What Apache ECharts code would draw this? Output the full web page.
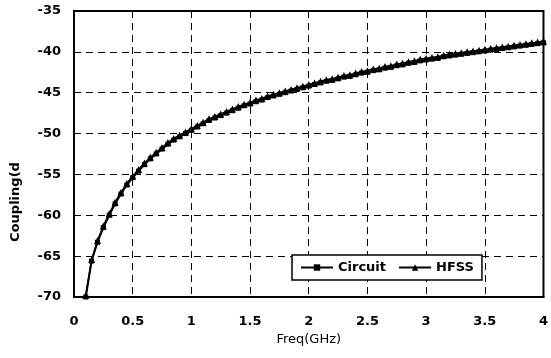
<!DOCTYPE html>
<html>
<head>
<meta charset="utf-8">
<script src="https://cdn.jsdelivr.net/npm/echarts@6/dist/echarts.min.js"></script>
<style>
  html, body { margin: 0; padding: 0; background: #fff; }
  #main { width: 551px; height: 358px; }
</style>
</head>
<body>
<div id="main"></div>
<script>
// frequency points (GHz)
var freq = [0.1, 0.15, 0.2, 0.25, 0.3, 0.35, 0.4, 0.45, 0.5, 0.55, 0.6, 0.65, 0.7, 0.75, 0.8, 0.85, 0.9, 0.95, 1.0,
            1.05, 1.1, 1.15, 1.2, 1.25, 1.3, 1.35, 1.4, 1.45, 1.5, 1.55, 1.6, 1.65, 1.7, 1.75, 1.8, 1.85, 1.9, 1.95, 2.0,
            2.05, 2.1, 2.15, 2.2, 2.25, 2.3, 2.35, 2.4, 2.45, 2.5, 2.55, 2.6, 2.65, 2.7, 2.75, 2.8, 2.85, 2.9, 2.95, 3.0,
            3.05, 3.1, 3.15, 3.2, 3.25, 3.3, 3.35, 3.4, 3.45, 3.5, 3.55, 3.6, 3.65, 3.7, 3.75, 3.8, 3.85, 3.9, 3.95, 4.0];
// coupling (dB)
var circuitVals = [-70.0, -65.6, -63.3, -61.5, -60.0, -58.6, -57.4, -56.3, -55.4, -54.6, -53.8, -53.1, -52.5, -51.9, -51.3, -50.8, -50.4, -50.0, -49.6,
                   -49.2, -48.8, -48.4, -48.1, -47.8, -47.5, -47.2, -46.9, -46.6, -46.4, -46.1, -45.9, -45.6, -45.4, -45.2, -45.0, -44.8, -44.6, -44.4, -44.2,
                   -44.0, -43.8, -43.6, -43.5, -43.3, -43.1, -43.0, -42.8, -42.6, -42.5, -42.3, -42.2, -42.0, -41.9, -41.7, -41.6, -41.4, -41.3, -41.1, -41.0,
                   -40.9, -40.8, -40.6, -40.5, -40.4, -40.3, -40.2, -40.1, -40.0, -39.9, -39.8, -39.7, -39.6, -39.5, -39.4, -39.3, -39.2, -39.1, -39.0, -38.9];
var hfssVals = [-69.8, -65.4, -63.1, -61.3, -59.8, -58.4, -57.2, -56.1, -55.2, -54.4, -53.6, -52.9, -52.3, -51.7, -51.1, -50.6, -50.2, -49.8, -49.4,
                -49.0, -48.6, -48.2, -47.9, -47.6, -47.3, -47.0, -46.7, -46.4, -46.2, -45.9, -45.7, -45.4, -45.2, -45.0, -44.8, -44.6, -44.4, -44.2, -44.0,
                -43.8, -43.6, -43.4, -43.3, -43.1, -42.9, -42.8, -42.6, -42.4, -42.3, -42.1, -42.0, -41.8, -41.7, -41.5, -41.4, -41.2, -41.1, -40.9, -40.8,
                -40.7, -40.6, -40.4, -40.3, -40.2, -40.1, -40.0, -39.9, -39.8, -39.7, -39.6, -39.5, -39.4, -39.3, -39.2, -39.1, -39.0, -38.9, -38.8, -38.7];
var seriesNames = ['Circuit', 'HFSS'];

function pairs(xs, ys) {
  var out = [];
  for (var i = 0; i < xs.length; i++) out.push([xs[i], ys[i]]);
  return out;
}

var font = 'DejaVu Sans, sans-serif';
var myChart = echarts.init(document.getElementById('main'));
var option = {
  animation: false,
  backgroundColor: '#fff',
  grid: { left: 74, right: 3, top: 11, bottom: 61, show: true, borderColor: '#000', borderWidth: 2 },
  legend: {
    data: seriesNames,
    left: 292, top: 255,
    itemWidth: 32, itemHeight: 8, itemGap: 12,
    padding: [6, 8, 6, 8],
    borderColor: '#000', borderWidth: 1.5,
    backgroundColor: '#fff',
    textStyle: { fontFamily: font, fontSize: 13, fontWeight: 'bold', color: '#000' }
  },
  xAxis: {
    type: 'value', min: 0, max: 4, interval: 0.5,
    name: 'Freq(GHz)', nameLocation: 'middle', nameGap: 36,
    nameTextStyle: { fontFamily: font, fontSize: 13, color: '#000' },
    axisLine: { lineStyle: { color: '#000', width: 2 } },
    axisTick: { show: false },
    axisLabel: { margin: 18, fontFamily: font, fontSize: 13, fontWeight: 'bold', color: '#000' },
    splitLine: { lineStyle: { color: '#000', type: [7, 5], width: 1 } }
  },
  yAxis: {
    type: 'value', min: -70, max: -35, interval: 5,
    name: 'Coupling(d', nameLocation: 'middle', nameGap: 52,
    nameTextStyle: { fontFamily: font, fontSize: 13, fontWeight: 'bold', color: '#000', padding: [0, 96, 0, 0] },
    axisLine: { lineStyle: { color: '#000', width: 2 } },
    axisTick: { show: false },
    axisLabel: { margin: 13, fontFamily: font, fontSize: 13, fontWeight: 'bold', color: '#000' },
    splitLine: { lineStyle: { color: '#000', type: [7, 5], width: 1 } }
  },
  series: [
    {
      name: seriesNames[0], type: 'line', data: pairs(freq, circuitVals),
      symbol: 'rect', symbolSize: 5,
      lineStyle: { color: '#000', width: 2 },
      itemStyle: { color: '#000' }
    },
    {
      name: seriesNames[1], type: 'line', data: pairs(freq, hfssVals),
      symbol: 'triangle', symbolSize: 7,
      lineStyle: { color: '#000', width: 1.5 },
      itemStyle: { color: '#000' }
    }
  ]
};
myChart.setOption(option);
</script>
</body>
</html>
